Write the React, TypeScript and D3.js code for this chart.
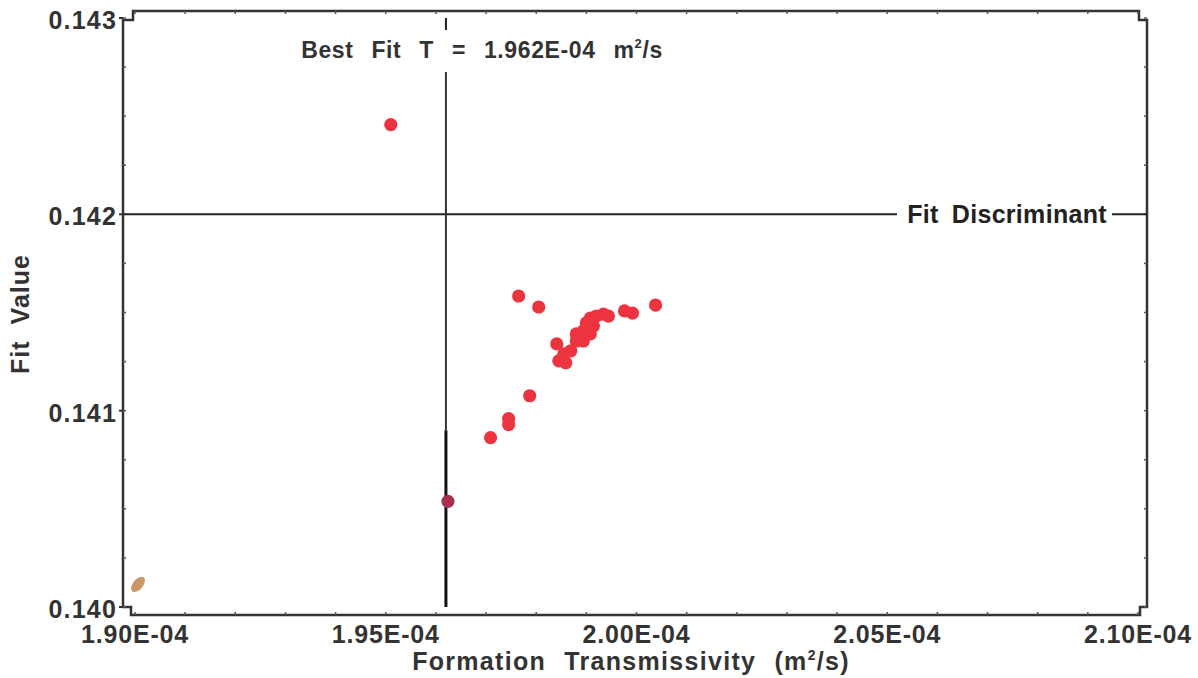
import React from "react";
import * as d3 from "d3";

// ---- data ----
const transmissivity = [
  1.951e-4, 1.9624e-4, 1.9709e-4, 1.9745e-4, 1.9745e-4, 1.9787e-4, 1.9765e-4, 1.9805e-4,
  1.9841e-4, 1.9845e-4, 1.9859e-4, 1.9855e-4, 1.9869e-4, 1.988e-4, 1.988e-4, 1.9894e-4,
  1.9894e-4, 1.9908e-4, 1.99e-4, 1.9908e-4, 1.992e-4, 1.9934e-4, 1.9944e-4, 1.9914e-4,
  1.9976e-4, 1.9992e-4, 2.0038e-4,
];
const fitValue = [
  0.142457, 0.140538, 0.140863, 0.140959, 0.140929, 0.141076, 0.141584, 0.141528,
  0.14134, 0.141254, 0.141244, 0.141289, 0.141305, 0.141355, 0.141391, 0.141406,
  0.141355, 0.141391, 0.141447, 0.141472, 0.141482, 0.141492, 0.141482, 0.141431,
  0.141508, 0.141497, 0.141538,
];
const outlierT = [1.9006e-4];
const outlierFit = [0.140115];

const xTicks = [1.9e-4, 1.95e-4, 2.0e-4, 2.05e-4, 2.1e-4];
const xTickLabels = ["1.90E-04", "1.95E-04", "2.00E-04", "2.05E-04", "2.10E-04"];
const yTicks = [0.14, 0.141, 0.142, 0.143];
const yTickLabels = ["0.140", "0.141", "0.142", "0.143"];

const bestFitT = 1.962e-4;
const fitDiscriminant = 0.142;

const W = 1198;
const H = 678;
const FONT = "'Liberation Sans', Arial, sans-serif";

export default function App() {
  const x = d3.scaleLinear().domain([1.9e-4, 2.1e-4]).range([135, 1138]);
  const y = d3.scaleLinear().domain([0.14, 0.143]).range([607, 18]);

  const L = 123, R = 1147, T = 11, B = 615;
  const frame = `M${L},20 L${L},607 L131,607 L131,${B} L1140,${B} L1140,607 L${R},607 L${R},20 L1139,20 L1139,${T} L133,${T} L133,20 Z`;

  const xMinor = d3.range(0, 21).map((i) => 1.9e-4 + i * 0.01e-4);
  const yMinor = d3.range(0, 13).map((i) => 0.14 + i * 0.00025);

  const bx = x(bestFitT);
  const dy = y(fitDiscriminant);

  return (
    <svg width={W} height={H} style={{ position: "absolute", left: 0, top: 0, background: "#fff" }}>
      {/* frame */}
      <path d={frame} fill="none" stroke="#333" strokeWidth={2.5} />
      {/* ticks */}
      {xMinor.map((v, i) => (
        <g key={"xt" + i}>
          <line x1={x(v)} x2={x(v)} y1={B} y2={B - 3} stroke="#555" strokeWidth={1.5} />
          <line x1={x(v)} x2={x(v)} y1={T} y2={T + 3} stroke="#555" strokeWidth={1.5} />
        </g>
      ))}
      {yMinor.map((v, i) => (
        <g key={"yt" + i}>
          <line x1={L} x2={L + 3} y1={y(v)} y2={y(v)} stroke="#555" strokeWidth={1.5} />
          <line x1={R} x2={R - 3} y1={y(v)} y2={y(v)} stroke="#555" strokeWidth={1.5} />
        </g>
      ))}
      {yTicks.map((v, i) => (
        <line key={"ym" + i} x1={L - 4} x2={L} y1={y(v)} y2={y(v)} stroke="#333" strokeWidth={2} />
      ))}
      {/* tick labels */}
      {xTicks.map((v, i) => (
        <text key={"xl" + i} x={x(v)} y={643} textAnchor="middle" fontFamily={FONT} fontWeight="bold"
          fontSize={25} letterSpacing={0.8} fill="#333">{xTickLabels[i]}</text>
      ))}
      {yTicks.map((v, i) => (
        <text key={"yl" + i} x={117} y={y(v) + 11} textAnchor="end" fontFamily={FONT} fontWeight="bold"
          fontSize={25} letterSpacing={1.2} fill="#333">{yTickLabels[i]}</text>
      ))}
      {/* axis titles */}
      <text x={631} y={670} textAnchor="middle" fontFamily={FONT} fontWeight="bold" fontSize={25}
        letterSpacing={1.3} wordSpacing={10} fill="#333">
        Formation Transmissivity (m<tspan fontSize={14} dy={-10}>2</tspan><tspan dy={10}>/s)</tspan>
      </text>
      <text transform={`translate(29,314) rotate(-90)`} textAnchor="middle" fontFamily={FONT}
        fontWeight="bold" fontSize={25} letterSpacing={1} wordSpacing={8} fill="#333">Fit Value</text>

      {/* fit discriminant line */}
      <line x1={L} x2={897} y1={dy} y2={dy} stroke="#222" strokeWidth={2} />
      <line x1={1112} x2={R} y1={dy} y2={dy} stroke="#222" strokeWidth={2} />
      <text x={1007} y={dy + 9} textAnchor="middle" fontFamily={FONT} fontWeight="bold" fontSize={25}
        letterSpacing={0.3} wordSpacing={6} fill="#222">Fit Discriminant</text>

      {/* best fit line */}
      <line x1={bx} x2={bx} y1={18} y2={30} stroke="#222" strokeWidth={2} />
      <line x1={bx} x2={bx} y1={72} y2={y(0.1409)} stroke="#333" strokeWidth={2} />
      <line x1={bx} x2={bx} y1={y(0.1409)} y2={y(0.14)} stroke="#111" strokeWidth={3} />
      <text x={482} y={58} textAnchor="middle" fontFamily={FONT} fontWeight="bold" fontSize={23}
        letterSpacing={0.6} wordSpacing={11} fill="#333">
        Best Fit T = 1.962E-04 m<tspan fontSize={13} dy={-10}>2</tspan><tspan dy={10}>/s</tspan>
      </text>

      {/* points */}
      {transmissivity.map((t, i) => (
        <circle key={"p" + i} cx={x(t)} cy={y(fitValue[i])} r={6.6}
          fill={i === 1 ? "#a8304e" : "#ec3440"} />
      ))}
      {outlierT.map((t, i) => (
        <ellipse key={"o" + i} cx={x(t)} cy={y(outlierFit[i])} rx={5} ry={9}
          transform={`rotate(40 ${x(t)} ${y(outlierFit[i])})`} fill="#c99866" />
      ))}
    </svg>
  );
}
